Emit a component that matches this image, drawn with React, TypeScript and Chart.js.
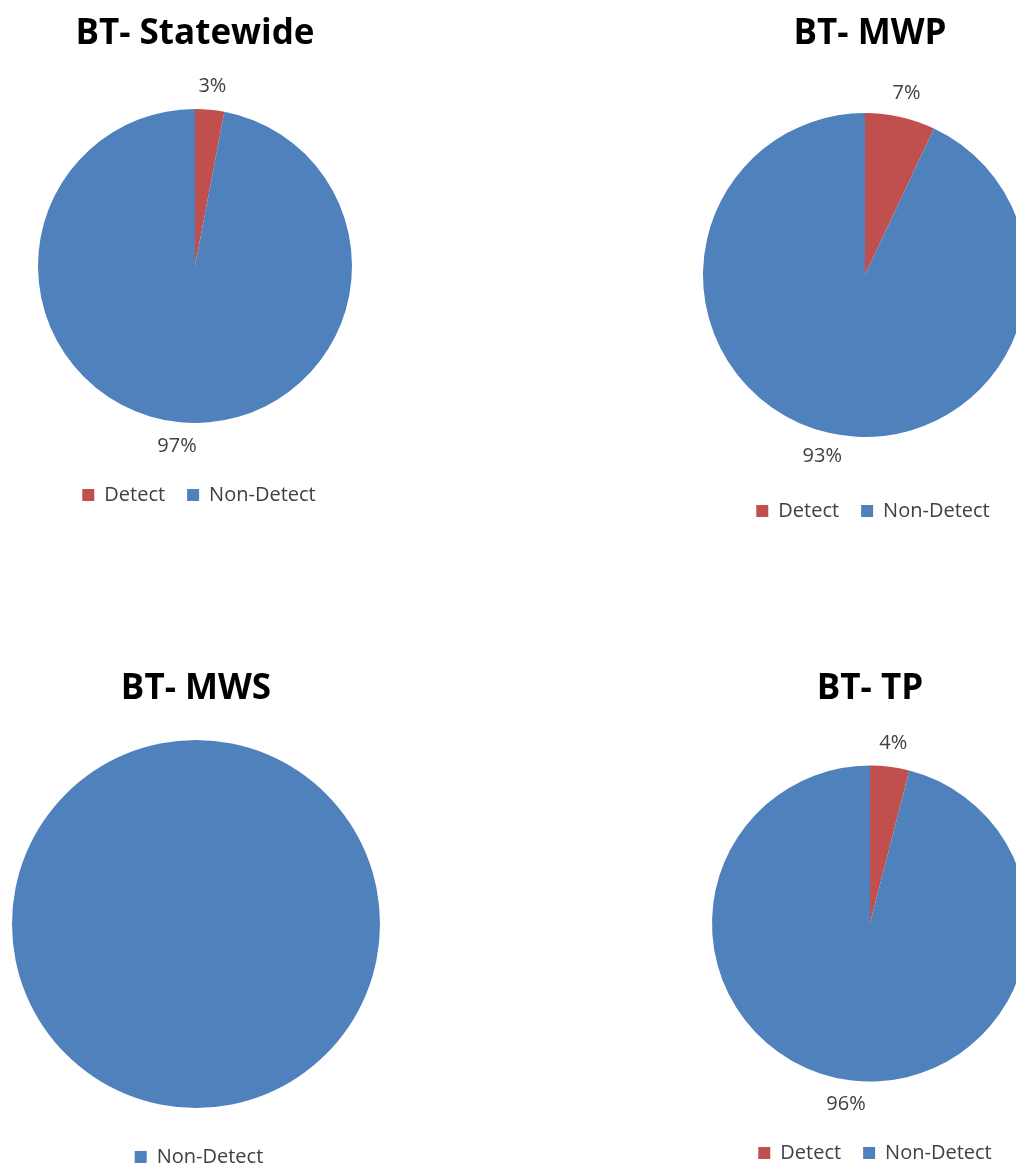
import React, { useEffect, useRef } from "react";
import { Chart, registerables } from "chart.js";

Chart.register(...registerables);

// ---------- data ----------
const titleStatewide = "BT- Statewide";
const titleMWP = "BT- MWP";
const titleMWS = "BT- MWS";
const titleTP = "BT- TP";

const twoCategories = ["Detect", "Non-Detect"];
const oneCategory = ["Non-Detect"];

const statewideValues = [3, 97];
const mwpValues = [7, 93];
const mwsValues = [100];
const tpValues = [4, 96];

// ---------- styles ----------
const DETECT_COLOR = "#C0504D";
const NONDETECT_COLOR = "#4F81BD";
const TEXT_COLOR = "#404040";
const FONT = "'Open Sans', 'DejaVu Sans', sans-serif";
const TITLE_SIZE = 35;
const TEXT_SIZE = 20;
const LEGEND_PAD = 22;

type PieSpec = {
  title: string;
  labels: string[];
  values: number[];
  colors: string[];
  showPct: boolean;
  box: { left: number; top: number; width: number; height: number };
  radius: number;
  titlePadTop: number;
  titlePadBottom: number;
  legendShift: number;
  titleShift: number;
};

const specs: PieSpec[] = [
  {
    title: titleStatewide,
    labels: twoCategories,
    values: statewideValues,
    colors: [DETECT_COLOR, NONDETECT_COLOR],
    showPct: true,
    box: { left: 0, top: 7, width: 390, height: 508 },
    radius: 157,
    titlePadTop: 6,
    titlePadBottom: 14,
    legendShift: 4,
    titleShift: 0,
  },
  {
    title: titleMWP,
    labels: twoCategories,
    values: mwpValues,
    colors: [DETECT_COLOR, NONDETECT_COLOR],
    showPct: true,
    box: { left: 670, top: 7, width: 390, height: 524 },
    radius: 162,
    titlePadTop: 6,
    titlePadBottom: 16,
    legendShift: 8,
    titleShift: 5,
  },
  {
    title: titleMWS,
    labels: oneCategory,
    values: mwsValues,
    colors: [NONDETECT_COLOR],
    showPct: false,
    box: { left: 1, top: 662, width: 390, height: 515 },
    radius: 184,
    titlePadTop: 6,
    titlePadBottom: 13,
    legendShift: 3,
    titleShift: 0,
  },
  {
    title: titleTP,
    labels: twoCategories,
    values: tpValues,
    colors: [DETECT_COLOR, NONDETECT_COLOR],
    showPct: true,
    box: { left: 675, top: 662, width: 390, height: 511 },
    radius: 158,
    titlePadTop: 6,
    titlePadBottom: 16,
    legendShift: 5,
    titleShift: 0,
  },
];

// Outside-end percentage labels, placed along each slice's mid angle.
const pctLabelPlugin = {
  id: "pctLabels",
  afterDatasetsDraw(chart: any, _args: any, opts: any) {
    if (!opts || !opts.display) return;
    const ctx = chart.ctx;
    const meta = chart.getDatasetMeta(0);
    const data: number[] = chart.data.datasets[0].data;
    const total = data.reduce((a, b) => a + b, 0);
    ctx.save();
    ctx.font = `${TEXT_SIZE}px ${FONT}`;
    ctx.fillStyle = TEXT_COLOR;
    ctx.textAlign = "center";
    ctx.textBaseline = "middle";
    meta.data.forEach((arc: any, i: number) => {
      const { x, y, startAngle, endAngle, outerRadius } = arc.getProps(
        ["x", "y", "startAngle", "endAngle", "outerRadius"],
        true
      );
      const mid = (startAngle + endAngle) / 2;
      const text = Math.round((data[i] / total) * 100) + "%";
      const w = ctx.measureText(text).width;
      const h = TEXT_SIZE;
      const d = outerRadius + opts.gap;
      const lx = x + Math.cos(mid) * d + Math.cos(mid) * (w / 2);
      const ly = y + Math.sin(mid) * d + Math.sin(mid) * (h / 2);
      ctx.fillText(text, lx, ly);
    });
    ctx.restore();
  },
};

// Small horizontal nudges of the title / legend boxes after layout.
const nudgePlugin = {
  id: "nudge",
  afterLayout(chart: any, _args: any, opts: any) {
    if (!opts) return;
    if (chart.legend && opts.legend) {
      chart.legend.left += opts.legend;
      chart.legend.right += opts.legend;
    }
    if (chart.titleBlock && opts.title) {
      chart.titleBlock.left += opts.title;
      chart.titleBlock.right += opts.title;
    }
  },
};

function PieChart({ spec }: { spec: PieSpec }) {
  const ref = useRef<HTMLCanvasElement | null>(null);
  useEffect(() => {
    if (!ref.current) return;
    const chart = new Chart(ref.current, {
      type: "pie",
      data: {
        labels: spec.labels,
        datasets: [
          {
            data: spec.values,
            backgroundColor: spec.colors,
            borderWidth: 0,
            radius: spec.radius,
          } as any,
        ],
      },
      options: {
        responsive: false,
        animation: false,
        events: [],
        layout: { padding: 0 },
        plugins: {
          title: {
            display: true,
            text: spec.title,
            color: "#000000",
            font: { family: FONT, size: TITLE_SIZE, weight: "bold", lineHeight: 1.2 },
            padding: { top: spec.titlePadTop, bottom: spec.titlePadBottom },
          },
          legend: {
            display: true,
            position: "bottom",
            labels: {
              color: TEXT_COLOR,
              font: { family: FONT, size: TEXT_SIZE },
              boxWidth: 12,
              boxHeight: 12,
              padding: LEGEND_PAD,
            },
          },
          tooltip: { enabled: false },
          pctLabels: { display: spec.showPct, gap: 14 },
          nudge: { legend: spec.legendShift, title: spec.titleShift },
        } as any,
      },
      plugins: [pctLabelPlugin, nudgePlugin],
    });
    return () => chart.destroy();
  }, [spec]);
  const { left, top, width, height } = spec.box;
  return (
    <canvas
      ref={ref}
      width={width}
      height={height}
      style={{ position: "absolute", left, top, width, height }}
    />
  );
}

export default function App() {
  return (
    <div
      style={{
        position: "absolute",
        left: 0,
        top: 0,
        width: 1016,
        height: 1168,
        overflow: "hidden",
        background: "#ffffff",
      }}
    >
      {specs.map((s) => (
        <PieChart key={s.title} spec={s} />
      ))}
    </div>
  );
}
